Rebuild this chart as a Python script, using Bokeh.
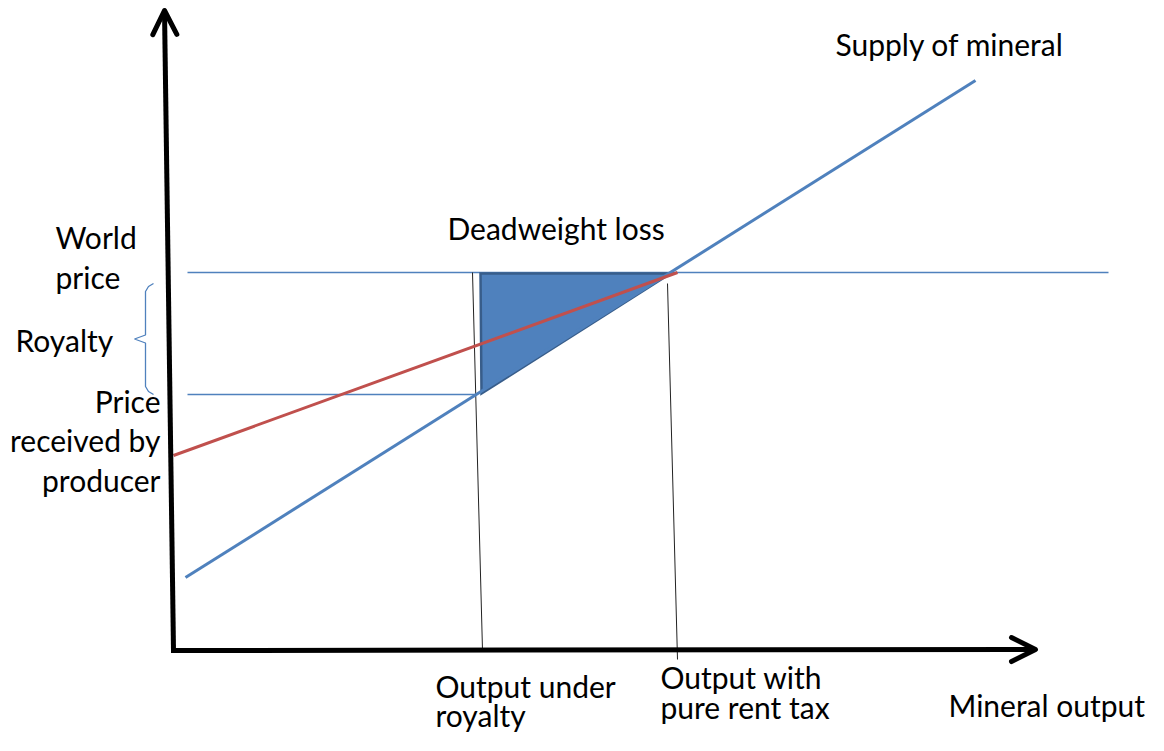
from bokeh.plotting import figure
from bokeh.models import Range1d, Arrow, OpenHead, ColumnDataSource
from bokeh.core.properties import value
from bokeh.embed import file_html
from bokeh.resources import INLINE

# ---- diagram values (output units on x, price units on y) ----
supply_q = [1.2, 80.2]          # supply of mineral: quantity end points
supply_p = [7.3, 57.0]          # supply of mineral: price end points
world_price = 37.8
producer_price = 25.6
world_line_q = [1.4, 93.5]
producer_line_q = [1.4, 30.2]
red_q = [0.0, 50.4]             # supply curve incl. royalty
red_p = [19.5, 37.8]
q_royalty_top, q_royalty_bottom = 29.9, 30.9
q_rent_top, q_rent_bottom = 49.4, 50.4
q_rent_bottom_p = -0.9
q_rent_top_p = 36.7
dwl_q = [30.7, 49.7, 30.8]
dwl_p = [37.7, 37.7, 25.7]
axis_x_end = 86.2
axis_y_end = 64.0
axis_y_top_q = -0.9

labels_left = ["Supply of mineral", "Deadweight loss", "World", "price", "Royalty",
               "Output under", "royalty", "Output with", "pure rent tax", "Mineral output"]
labels_right = ["Price", "received by", "producer"]

W, H = 1148, 735
p = figure(width=W, height=H, output_backend="svg", toolbar_location=None,
           x_range=Range1d(-17.3, 97.5), y_range=Range1d(-8.5, 65.0),
           min_border=0, outline_line_color=None)
p.axis.visible = False
p.grid.visible = False
p.background_fill_color = "white"

BLUE = "#4F81BD"
RED = "#C0504D"

# thin horizontal price lines
p.line(world_line_q, [world_price, world_price], line_color=BLUE, line_width=1.3)
p.line(producer_line_q, [producer_price, producer_price], line_color=BLUE, line_width=1.3)

# thin vertical output lines
p.line([q_royalty_top, q_royalty_bottom], [world_price, 0], line_color="#222222", line_width=1)
p.line([q_rent_top, q_rent_bottom], [q_rent_top_p, q_rent_bottom_p], line_color="#222222", line_width=1)

# deadweight loss triangle
p.patch(dwl_q, dwl_p, fill_color=BLUE, line_color="#385D8A", line_width=2.5, line_join="miter")

# supply curves
p.line(supply_q, supply_p, line_color=BLUE, line_width=3)
p.line(red_q, red_p, line_color=RED, line_width=3)

# brace for royalty
top = world_price - 1.1
bot = producer_price
mid = (top + bot) / 2
bx, hook, tip = -2.8, -2.0, -3.9
p.line([hook, bx + 0.3, bx, bx, tip, bx, bx, bx + 0.3, hook],
       [top, top - 0.3, top - 0.8, mid + 0.4, mid, mid - 0.4, bot + 0.8, bot + 0.3, bot],
       line_color=BLUE, line_width=1.3)

# axes with arrows
p.add_layout(Arrow(end=OpenHead(size=24, line_width=5, line_cap="round", line_join="round"),
                   x_start=0, y_start=0, x_end=axis_x_end, y_end=0.1,
                   line_width=5, line_color="black"))
p.add_layout(Arrow(end=OpenHead(size=24, line_width=5, line_cap="round", line_join="round"),
                   x_start=0, y_start=0, x_end=axis_y_top_q, y_end=axis_y_end,
                   line_width=5, line_color="black"))
p.line([-0.25, 0.5], [0, 0], line_color="black", line_width=5)

# labels
src_l = ColumnDataSource(dict(
    x=[66.2, 27.4, -11.8, -11.8, -15.8, 26.2, 26.2, 48.7, 48.7, 77.5],
    y=[60.65, 42.25, 41.35, 37.35, 31.05, -3.5, -6.4, -2.6, -5.6, -5.45],
    t=labels_left))
p.text(x="x", y="y", text="t", source=src_l, text_align="left", text_baseline="middle",
       text_font=value("Lato"), text_font_size=value("30px"), text_color="black")
src_r = ColumnDataSource(dict(x=[-1.3, -1.3, -1.3], y=[24.95, 21.05, 17.05], t=labels_right))
p.text(x="x", y="y", text="t", source=src_r, text_align="right", text_baseline="middle",
       text_font=value("Lato"), text_font_size=value("30px"), text_color="black")

open("out.html", "w").write(file_html(p, INLINE))
